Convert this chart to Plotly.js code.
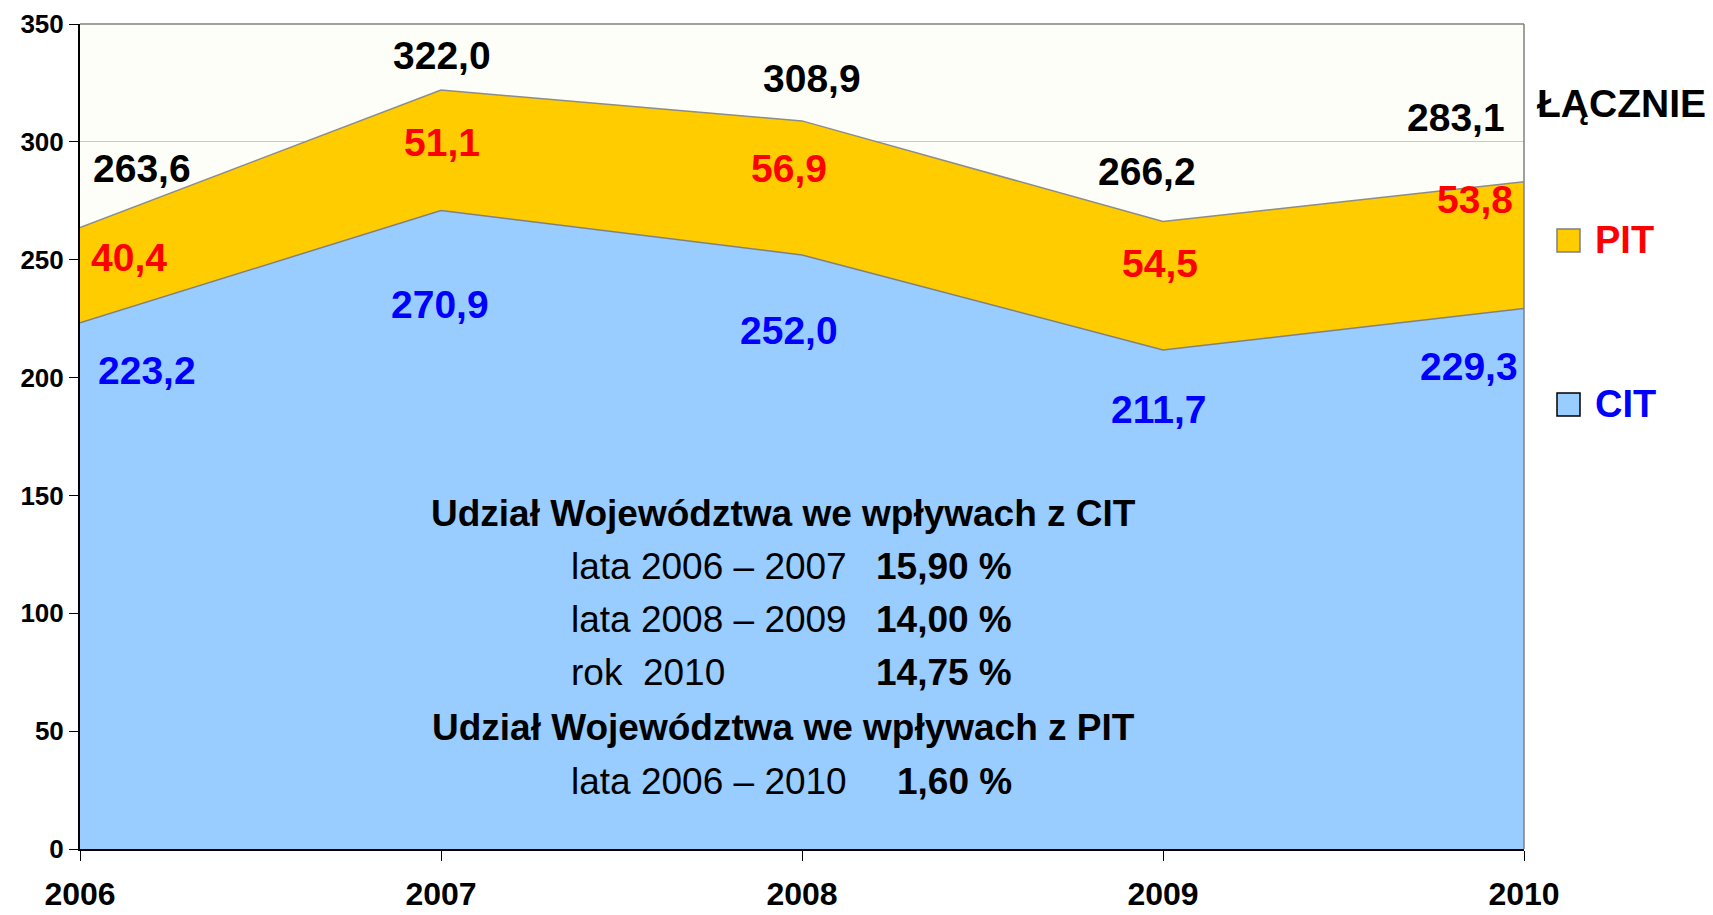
<!DOCTYPE html>
<html>
<head>
<meta charset="utf-8">
<script src="https://cdn.plot.ly/plotly-3.0.1.min.js"></script>
<style>html,body{margin:0;padding:0;background:#fff;}#chart{width:1713px;height:915px;}</style>
</head>
<body>
<div id="chart"></div>
<script>
// ---- data ----
const years = [2006, 2007, 2008, 2009, 2010];
const cit = [223.2, 270.9, 252.0, 211.7, 229.3];
const pit = [40.4, 51.1, 56.9, 54.5, 53.8];
const total = [263.6, 322.0, 308.9, 266.2, 283.1];
const yTicks = [0, 50, 100, 150, 200, 250, 300, 350];
const seriesNames = ['CIT', 'PIT', 'ŁĄCZNIE'];
const infoTitleCit = 'Udział Województwa we wpływach z CIT';
const infoTitlePit = 'Udział Województwa we wpływach z PIT';
const infoLabels = ['lata 2006 – 2007', 'lata 2008 – 2009', 'rok  2010', 'lata 2006 – 2010'];
const infoValues = ['15,90 %', '14,00 %', '14,75 %', '1,60 %'];

// ---- layout geometry ----
const W = 1713, H = 915;
const M = {l: 80, r: 189, t: 24, b: 66};
const PW = W - M.l - M.r, PH = H - M.t - M.b;
const px = x => (x - M.l) / PW;
const py = y => (H - M.b - y) / PH;
const fmt = v => v.toFixed(1).replace('.', ',');
const pitMid = cit.map((c, i) => c + pit[i] / 2);

const FONT = 'Arial, "Liberation Sans", sans-serif';

// label offsets in pixels (style)
const totShift = [[62, 59], [1, 35], [10, 42], [-16, 50], [-68, 64]];
const pitShift = [[49, 18], [1, 8], [-13, 19], [-3, 22], [-49, 46]];
const citShift = [[67, -48], [-1, -94], [-13, -75], [-5, -60], [-55, -58]];

const traces = [
  {x: years, y: cit, name: seriesNames[0], type: 'scatter', mode: 'lines', fill: 'tozeroy',
   fillcolor: '#99CCFF', line: {color: '#808080', width: 1.5}, hoverinfo: 'skip'},
  {x: years, y: total, name: seriesNames[1], type: 'scatter', mode: 'lines', fill: 'tonexty',
   fillcolor: '#FFCC00', line: {color: '#8c8c8c', width: 1.5}, hoverinfo: 'skip'}
];

const ann = [];
const lab = (x, y, text, dx, dy, color) => ({x: x, y: y, xref: 'x', yref: 'y', text: text, showarrow: false,
  xanchor: 'center', yanchor: 'middle', xshift: dx, yshift: dy,
  font: {family: FONT, size: 39, color: color, weight: 'bold'}});
years.forEach((yr, i) => {
  ann.push(lab(yr, total[i], fmt(total[i]), totShift[i][0], totShift[i][1], '#000000'));
  ann.push(lab(yr, pitMid[i], fmt(pit[i]), pitShift[i][0], pitShift[i][1], '#FF0000'));
  ann.push(lab(yr, cit[i], fmt(cit[i]), citShift[i][0], citShift[i][1], '#0000FF'));
});

const pAnn = (x, y, text, xa, font) => ({x: px(x), y: py(y), xref: 'paper', yref: 'paper', text: text,
  showarrow: false, xanchor: xa, yanchor: 'middle', font: font});

// legend-like labels
ann.push(pAnn(1621, 104, seriesNames[2], 'center', {family: FONT, size: 39, color: '#000', weight: 'bold'}));
ann.push(pAnn(1593, 240, seriesNames[1], 'left', {family: FONT, size: 38, color: '#FF0000', weight: 'bold'}));
ann.push(pAnn(1593, 404, seriesNames[0], 'left', {family: FONT, size: 38, color: '#0000FF', weight: 'bold'}));

// info block
const infoFont = {family: FONT, size: 37, color: '#000'};
const infoBold = Object.assign({}, infoFont, {weight: 'bold'});
const rowY = [566, 619, 672, 781];
ann.push(pAnn(783, 513, infoTitleCit, 'center', infoBold));
ann.push(pAnn(783, 727, infoTitlePit, 'center', infoBold));
infoLabels.forEach((t, i) => {
  ann.push(pAnn(569, rowY[i], t, 'left', infoFont));
  ann.push(pAnn(1014, rowY[i], infoValues[i], 'right', infoBold));
});

const shapes = [
  {type: 'line', xref: 'paper', yref: 'paper', x0: 0, x1: 1, y0: 1, y1: 1, line: {color: '#808080', width: 1.5}},
  {type: 'line', xref: 'paper', yref: 'paper', x0: 1, x1: 1, y0: 0, y1: 1, line: {color: '#808080', width: 1.5}},
  {type: 'rect', xref: 'paper', yref: 'paper', x0: px(1557), x1: px(1580), y0: py(252), y1: py(229),
   fillcolor: '#FFCC00', line: {color: '#808080', width: 1.5}},
  {type: 'rect', xref: 'paper', yref: 'paper', x0: px(1557), x1: px(1580), y0: py(416), y1: py(393),
   fillcolor: '#99CCFF', line: {color: '#000000', width: 1.5}}
];

const layout = {
  width: W, height: H,
  margin: M,
  paper_bgcolor: '#FFFFFF',
  plot_bgcolor: '#FEFEF9',
  showlegend: false,
  xaxis: {range: [2006, 2010], tickvals: years, ticktext: years.map(String), showgrid: false, zeroline: false,
    showline: true, linecolor: '#000', linewidth: 2, ticks: 'outside', ticklen: 10, tickcolor: '#000',
    ticklabelstandoff: 6,
    tickfont: {family: FONT, size: 32, color: '#000', weight: 'bold'}},
  yaxis: {range: [0, 350], tickvals: yTicks, showgrid: true, gridcolor: '#C8C8C8', gridwidth: 1, zeroline: false,
    showline: true, linecolor: '#000', linewidth: 2, ticks: 'outside', ticklen: 9, tickcolor: '#000',
    tickfont: {family: FONT, size: 26, color: '#000', weight: 'bold'}},
  annotations: ann,
  shapes: shapes
};

Plotly.newPlot('chart', traces, layout, {displayModeBar: false, staticPlot: true});
</script>
</body>
</html>
